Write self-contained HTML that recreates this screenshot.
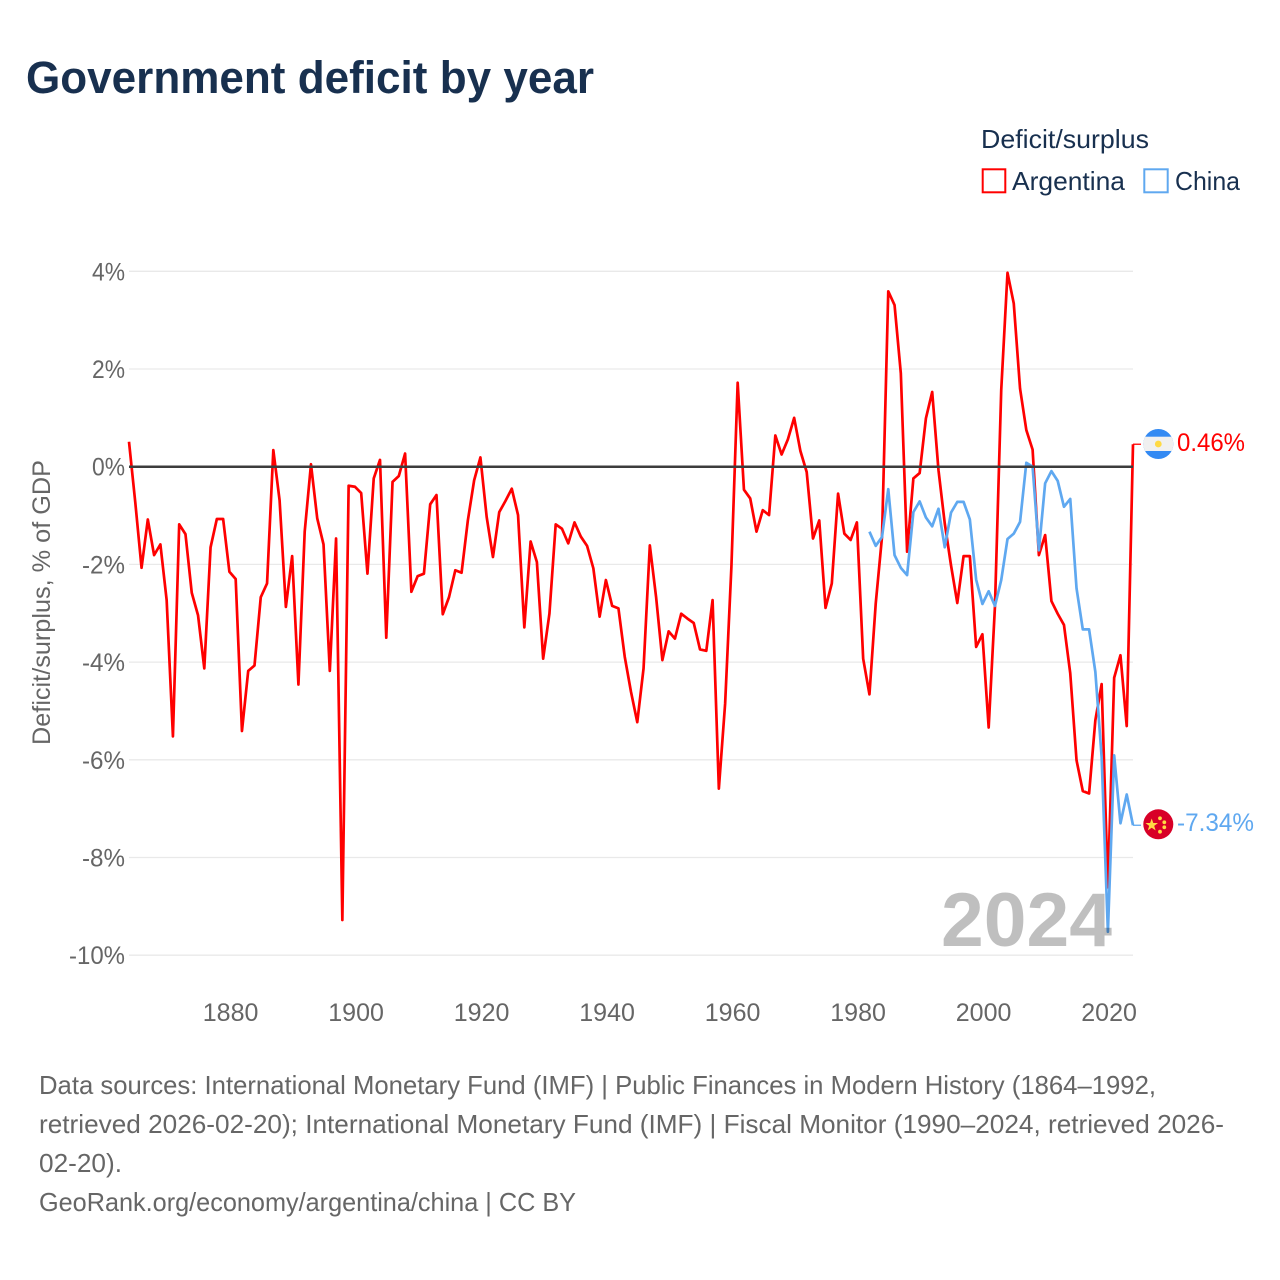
<!DOCTYPE html>
<html lang="en">
<head>
<meta charset="utf-8">
<title>Government deficit by year</title>
<style>
html,body{margin:0;padding:0;background:#fff;width:1280px;height:1280px;overflow:hidden}
svg{display:block}
text{font-family:"Liberation Sans",sans-serif}
</style>
</head>
<body>
<svg id="chart" xmlns="http://www.w3.org/2000/svg" width="1280" height="1280" viewBox="0 0 1280 1280">
  <defs>
    <clipPath id="ar-clip"><circle cx="1158.3" cy="444" r="15"/></clipPath>
    <clipPath id="cn-clip"><circle cx="1158.3" cy="824.3" r="15"/></clipPath>
  </defs>
  <rect x="0" y="0" width="1280" height="1280" fill="#fff"/>
  <text x="26" y="93" font-size="45" font-weight="700" fill="#18304f" textLength="568" lengthAdjust="spacingAndGlyphs">Government deficit by year</text>

  <text x="981" y="148" font-size="26" fill="#18304f" textLength="168" lengthAdjust="spacingAndGlyphs">Deficit/surplus</text>
  <g>
    <rect x="982.7" y="169.3" width="22.6" height="23" fill="#fff" stroke="#ff0000" stroke-width="2"/>
    <text x="1012" y="190" font-size="26" fill="#18304f" textLength="113" lengthAdjust="spacingAndGlyphs">Argentina</text>
  </g>
  <g>
    <rect x="1144.3" y="169.3" width="23.4" height="23" fill="#fff" stroke="#5fa8f0" stroke-width="2"/>
    <text x="1175" y="190" font-size="26" fill="#18304f" textLength="65" lengthAdjust="spacingAndGlyphs">China</text>
  </g>

  <g id="grid"></g>
  <g id="ylabels"></g>
  <g id="xlabels"></g>
  <text transform="translate(50,602.5) rotate(-90)" text-anchor="middle" font-size="25" fill="#666" textLength="285" lengthAdjust="spacingAndGlyphs">Deficit/surplus, % of GDP</text>

  <g id="series"></g>
  <line id="zero" stroke="#3c3c3c" stroke-width="2.5"/>

  <g clip-path="url(#ar-clip)">
    <rect x="1143" y="429" width="31" height="31" fill="#338af3"/>
    <rect x="1143" y="436.7" width="31" height="14.3" fill="#f0f0f0"/>
    <circle cx="1158.3" cy="444" r="3.4" fill="#ffda44"/>
  </g>
  <text x="1177" y="451" font-size="25" fill="#ff0000" textLength="68" lengthAdjust="spacingAndGlyphs">0.46%</text>

  <g clip-path="url(#cn-clip)">
    <rect x="1143" y="809" width="31" height="31" fill="#d80027"/>
    <polygon points="1151.7,818.5 1153.3,823 1158,823 1154.2,825.9 1155.6,830.4 1151.7,827.7 1147.8,830.4 1149.2,825.9 1145.4,823 1150.1,823" fill="#ffda44"/>
    <circle cx="1160" cy="818.3" r="1.9" fill="#ffda44"/>
    <circle cx="1164.3" cy="822.3" r="1.9" fill="#ffda44"/>
    <circle cx="1164.3" cy="827.3" r="1.9" fill="#ffda44"/>
    <circle cx="1160" cy="831.7" r="1.9" fill="#ffda44"/>
  </g>
  <text x="1177" y="831" font-size="25" fill="#5fa8f0" textLength="77" lengthAdjust="spacingAndGlyphs">-7.34%</text>

  <text x="941" y="946" font-size="76" font-weight="700" fill="#000" fill-opacity="0.25" textLength="171" lengthAdjust="spacingAndGlyphs">2024</text>

  <g font-size="26" fill="#666">
    <text x="39" y="1094" textLength="1117" lengthAdjust="spacingAndGlyphs">Data sources: International Monetary Fund (IMF) | Public Finances in Modern History (1864–1992,</text>
    <text x="39" y="1133" textLength="1185" lengthAdjust="spacingAndGlyphs">retrieved 2026-02-20); International Monetary Fund (IMF) | Fiscal Monitor (1990–2024, retrieved 2026-</text>
    <text x="39" y="1172" textLength="83" lengthAdjust="spacingAndGlyphs">02-20).</text>
    <text x="39" y="1211" textLength="537" lengthAdjust="spacingAndGlyphs">GeoRank.org/economy/argentina/china | CC BY</text>
  </g>
</svg>
<script>
const yTicks = [4, 2, 0, -2, -4, -6, -8, -10];
const xTicks = [1880, 1900, 1920, 1940, 1960, 1980, 2000, 2020];
const argentinaStart = 1864;
const chinaStart = 1982;
const argentinaValues = [
  0.51,-0.73,-2.07,-1.08,-1.81,-1.59,-2.73,-5.52,-1.18,-1.38,-2.58,-3.04,-4.13,-1.65,-1.07,-1.07,
  -2.15,-2.30,-5.41,-4.18,-4.07,-2.67,-2.39,0.34,-0.69,-2.87,-1.83,-4.46,-1.33,0.05,-1.06,-1.59,-4.18,-1.47,-9.28,-0.39,
  -0.41,-0.54,-2.19,-0.24,0.14,-3.50,-0.31,-0.19,0.27,-2.56,-2.24,-2.19,-0.77,-0.58,-3.02,-2.67,-2.12,-2.17,-1.10,-0.28,
  0.19,-1.03,-1.85,-0.93,-0.70,-0.45,-0.99,-3.29,-1.53,-1.95,-3.93,-3.01,-1.18,-1.27,-1.57,-1.14,-1.43,-1.62,-2.08,-3.07,
  -2.32,-2.85,-2.90,-3.89,-4.61,-5.23,-4.13,-1.61,-2.67,-3.96,-3.37,-3.52,-3.01,-3.11,-3.20,-3.74,-3.77,-2.73,-6.59,-4.85,
  -2.05,1.72,-0.47,-0.65,-1.33,-0.89,-0.99,0.64,0.25,0.56,1.00,0.32,-0.11,-1.47,-1.10,-2.89,-2.39,-0.55,-1.37,-1.50,
  -1.14,-3.93,-4.66,-2.80,-1.44,3.59,3.31,1.91,-1.74,-0.24,-0.13,0.99,1.53,-0.07,-1.16,-2.02,-2.79,-1.83,-1.83,-3.69,
  -3.43,-5.34,-2.86,1.57,3.97,3.34,1.60,0.75,0.35,-1.81,-1.40,-2.75,-3.01,-3.24,-4.23,-6.01,-6.64,-6.69,-5.19,-4.45,
  -8.61,-4.32,-3.86,-5.31,0.46
];
const chinaValues = [
  -1.33,-1.62,-1.44,-0.46,-1.81,-2.07,-2.22,-0.93,-0.71,-1.04,-1.22,-0.86,-1.65,-0.94,-0.72,-0.72,-1.08,-2.31,
  -2.81,-2.55,-2.85,-2.32,-1.48,-1.37,-1.13,0.08,0.00,-1.71,-0.34,-0.09,-0.29,-0.82,-0.66,-2.49,-3.33,-3.33,-4.20,-5.94,
  -9.52,-5.91,-7.30,-6.71,-7.34
];

const svgNS = 'http://www.w3.org/2000/svg';
const plotLeft = 129;
const plotRight = 1133;
function xScale(year) { return plotLeft + (year - 1864) * (plotRight - plotLeft) / 160; }
function yScale(v) { return 466.7 - v * 48.85; }
function pathFor(values, start) {
  return values.map(function (v, i) {
    return (i ? 'L' : 'M') + xScale(start + i).toFixed(2) + ' ' + yScale(v).toFixed(2);
  }).join(' ');
}

const grid = document.getElementById('grid');
const ylabels = document.getElementById('ylabels');
yTicks.forEach(function (t) {
  if (t !== 0) {
    const g = document.createElementNS(svgNS, 'line');
    
    
    g.setAttribute('x1', plotLeft);
    g.setAttribute('x2', plotRight);
    g.setAttribute('y1', yScale(t));
    g.setAttribute('y2', yScale(t));
    g.setAttribute('stroke', '#e9e9e9');
    g.setAttribute('stroke-width', '1.3');
    grid.appendChild(g);
  }
  const label = document.createElementNS(svgNS, 'text');
  
  
  const str = t + '%';
  const w = 33 + (t < 0 ? 10 : 0) + (Math.abs(t) >= 10 ? 13 : 0);
  label.setAttribute('x', 125 - w);
  label.setAttribute('y', yScale(t) + 9);
  label.setAttribute('font-size', '25');
  label.setAttribute('fill', '#666');
  label.setAttribute('textLength', w);
  label.setAttribute('lengthAdjust', 'spacingAndGlyphs');
  label.textContent = str;
  ylabels.appendChild(label);
});

const xlabels = document.getElementById('xlabels');
xTicks.forEach(function (t) {
  const label = document.createElementNS(svgNS, 'text');
  
  
  label.setAttribute('x', xScale(t) + 1.2);
  label.setAttribute('y', 1021);
  label.setAttribute('text-anchor', 'middle');
  label.setAttribute('font-size', '25');
  label.setAttribute('fill', '#666');
  label.textContent = String(t);
  xlabels.appendChild(label);
});

const zero = document.getElementById('zero');
zero.setAttribute('x1', plotLeft);
zero.setAttribute('x2', plotRight);
zero.setAttribute('y1', yScale(0));
zero.setAttribute('y2', yScale(0));

const series = document.getElementById('series');

const arLine = document.createElementNS(svgNS, 'path');


arLine.setAttribute('d', pathFor(argentinaValues, argentinaStart));
arLine.setAttribute('fill', 'none');
arLine.setAttribute('stroke', '#ff0000');
arLine.setAttribute('stroke-width', '2.7');
arLine.setAttribute('stroke-linejoin', 'round');
series.appendChild(arLine);

const cnLine = document.createElementNS(svgNS, 'path');


cnLine.setAttribute('d', pathFor(chinaValues, chinaStart));
cnLine.setAttribute('fill', 'none');
cnLine.setAttribute('stroke', '#5fa8f0');
cnLine.setAttribute('stroke-width', '2.7');
cnLine.setAttribute('stroke-linejoin', 'round');
series.appendChild(cnLine);

const arConn = document.createElementNS(svgNS, 'line');


arConn.setAttribute('x1', plotRight);
arConn.setAttribute('x2', 1141);
arConn.setAttribute('y1', yScale(argentinaValues[argentinaValues.length - 1]));
arConn.setAttribute('y2', yScale(argentinaValues[argentinaValues.length - 1]));
arConn.setAttribute('stroke', '#ff0000');
arConn.setAttribute('stroke-width', '1.3');
series.appendChild(arConn);

const cnConn = document.createElementNS(svgNS, 'line');


cnConn.setAttribute('x1', plotRight);
cnConn.setAttribute('x2', 1141);
cnConn.setAttribute('y1', yScale(chinaValues[chinaValues.length - 1]));
cnConn.setAttribute('y2', yScale(chinaValues[chinaValues.length - 1]));
cnConn.setAttribute('stroke', '#5fa8f0');
cnConn.setAttribute('stroke-width', '1.3');
series.appendChild(cnConn);
</script>
</body>
</html>
